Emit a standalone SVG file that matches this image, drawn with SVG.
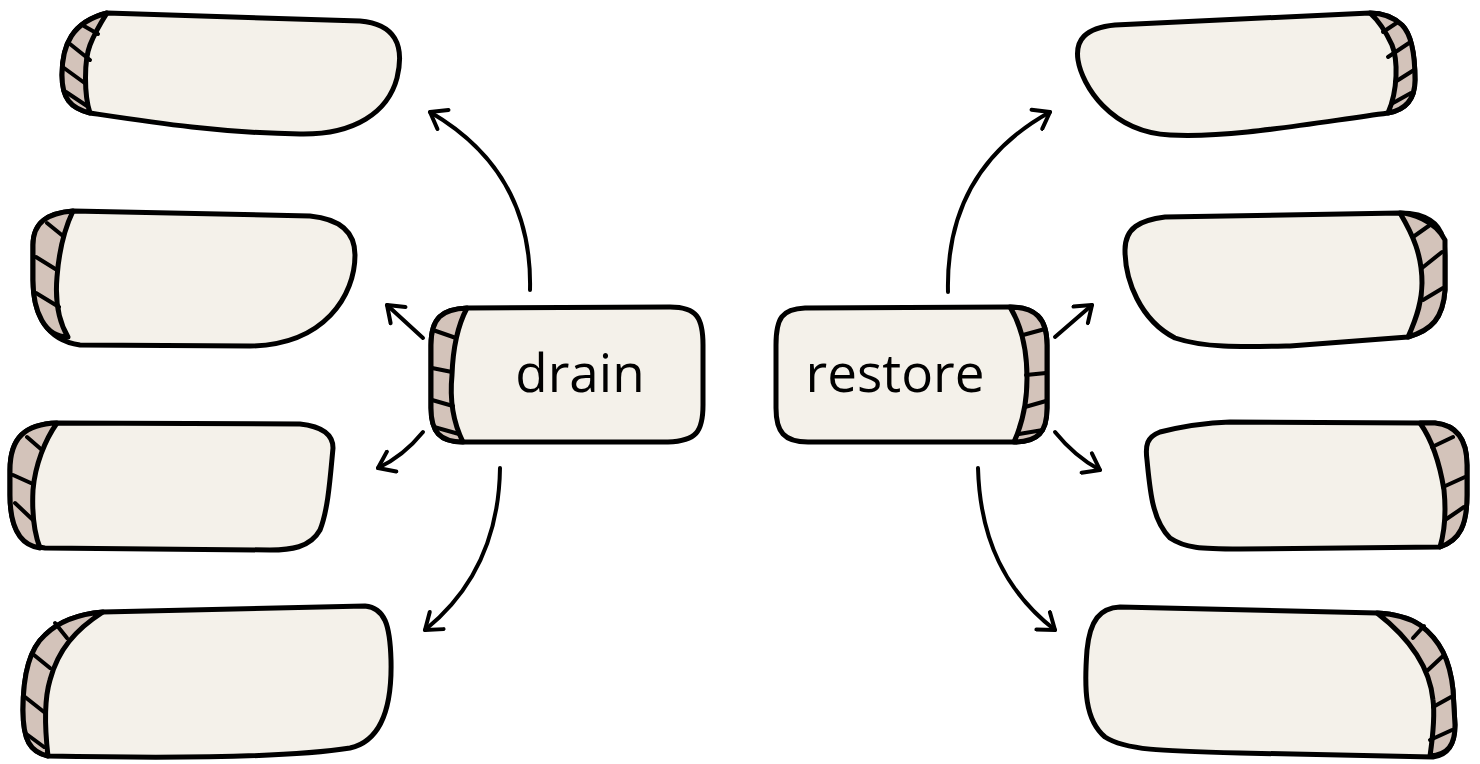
<svg xmlns="http://www.w3.org/2000/svg" width="1480" height="764" viewBox="0 0 1480 764">
  <style>
    .body { fill: #f4f1ea; stroke: #000; stroke-width: 5; stroke-linejoin: round; }
    .cap { fill: #d3c3ba; stroke: #000; stroke-width: 5; stroke-linejoin: round; }
    .rib { fill: none; stroke: #000; stroke-width: 4; stroke-linecap: round; }
    .edge { fill: none; stroke: #000; stroke-width: 4; stroke-linecap: round; }
    .label { font-family: "Open Sans", "Liberation Sans", sans-serif; font-weight: 400; font-size: 53px; fill: #000; text-anchor: middle; }
  </style>
  <defs>
    <marker id="head" viewBox="-18 -13 22 26" markerWidth="22" markerHeight="26" refX="0" refY="0" orient="auto" markerUnits="userSpaceOnUse">
      <path d="M -15 -11 L 0 0 L -15 11" fill="none" stroke="#000" stroke-width="4" stroke-linecap="round" stroke-linejoin="round"/>
    </marker>
  </defs>

  <!-- connectors -->
  <g id="connectors">
    <path class="edge" d="M 530 290 C 532 205 492 148 430 112" marker-end="url(#head)"/>
    <path class="edge" d="M 423 338 L 387 305" marker-end="url(#head)"/>
    <path class="edge" d="M 423 432 C 410 448 395 460 378 468" marker-end="url(#head)"/>
    <path class="edge" d="M 500 468 C 499 540 472 592 425 630" marker-end="url(#head)"/>
    <path class="edge" d="M 948 292 C 946 205 985 148 1050 112" marker-end="url(#head)"/>
    <path class="edge" d="M 1055 337 L 1092 305" marker-end="url(#head)"/>
    <path class="edge" d="M 1055 432 C 1068 448 1083 461 1100 470" marker-end="url(#head)"/>
    <path class="edge" d="M 978 468 C 980 540 1006 592 1055 630" marker-end="url(#head)"/>
  </g>

  <!-- central: drain -->
  <g id="drain">
    <path class="body" d="M 467 308 L 670 307 C 697 307 703 318 703 345 L 703 405 C 703 432 696 441 668 442 L 463 442 C 440 442 431 432 431 408 L 431 345 C 431 318 442 309 467 308 Z"/>
    <path class="cap" d="M 467 308 C 442 309 431 318 431 345 L 431 408 C 431 432 440 442 463 442 C 452 420 450 395 452 375 C 453 345 458 325 467 308 Z"/>
    <path class="rib" d="M 433 330 L 456 338 M 432 368 L 452 372 M 432 400 L 453 406 M 434 427 L 459 434"/>
    <text class="label" x="580" y="392">drain</text>
  </g>

  <!-- central: restore -->
  <g id="restore">
    <path class="body" d="M 805 308 L 1010 307 C 1035 307 1047 318 1047 345 L 1047 408 C 1047 432 1038 442 1014 442 L 808 442 C 784 442 776 432 776 408 L 776 345 C 776 318 782 309 805 308 Z"/>
    <path class="cap" d="M 1010 307 C 1035 307 1047 318 1047 345 L 1047 408 C 1047 432 1038 442 1014 442 C 1024 420 1027 398 1027 378 C 1027 350 1021 325 1010 307 Z"/>
    <path class="rib" d="M 1023 335 L 1045 329 M 1026 375 L 1046 373 M 1025 407 L 1046 401 M 1019 434 L 1043 430"/>
    <text class="label" x="895" y="392">restore</text>
  </g>

  <!-- left leaves -->
  <g id="leaf-l1">
    <path class="body" d="M 107 13 L 360 21 C 395 24 405 45 397 78 C 388 112 355 135 300 134 C 220 133 150 122 90 113 C 70 108 62 98 62 75 C 62 45 72 22 107 13 Z"/>
    <path class="cap" d="M 107 13 C 72 22 62 45 62 75 C 62 98 70 108 90 113 C 84 95 84 60 90 45 C 94 35 100 24 107 13 Z"/>
    <path class="rib" d="M 84 26 L 98 34 M 70 44 L 90 60 M 64 68 L 86 84 M 66 92 L 87 106"/>
  </g>

  <g id="leaf-l2">
    <path class="body" d="M 73 211 L 310 216 C 340 219 355 232 355 255 C 355 295 325 345 250 346 L 80 345 C 45 340 33 312 33 280 L 33 245 C 33 222 48 213 73 211 Z"/>
    <path class="cap" d="M 73 211 C 48 213 33 222 33 245 L 33 280 C 33 312 45 337 68 337 C 58 320 55 300 57 277 C 59 250 64 230 73 211 Z"/>
    <path class="rib" d="M 47 223 L 63 236 M 36 257 L 57 270 M 36 293 L 59 307"/>
  </g>

  <g id="leaf-l3">
    <path class="body" d="M 57 423 L 300 424 C 318 426 333 432 333 448 C 330 480 328 510 320 530 C 310 548 290 550 270 550 L 45 548 C 18 545 10 525 10 495 L 10 470 C 10 438 25 424 57 423 Z"/>
    <path class="cap" d="M 57 423 C 25 424 10 438 10 470 L 10 495 C 10 525 18 545 40 548 C 33 530 32 510 33 490 C 35 465 45 440 57 423 Z"/>
    <path class="rib" d="M 27 437 L 42 450 M 13 475 L 33 484 M 15 503 L 33 520"/>
  </g>

  <g id="leaf-l4">
    <path class="body" d="M 103 612 L 365 606 C 385 608 390 625 391 660 C 392 700 385 740 350 748 C 300 756 200 759 48 756 C 30 752 23 740 23 710 C 23 680 28 650 45 635 C 60 620 80 614 103 612 Z"/>
    <path class="cap" d="M 103 612 C 80 614 60 620 45 635 C 28 650 23 680 23 710 C 23 740 30 752 48 756 C 45 730 44 700 50 680 C 58 650 75 630 103 612 Z"/>
    <path class="rib" d="M 55 623 L 67 638 M 34 655 L 50 668 M 25 697 L 44 712 M 25 733 L 44 747"/>
  </g>

  <!-- right leaves -->
  <g id="leaf-r1">
    <path class="body" d="M 1370 13 L 1115 25 C 1085 28 1075 40 1078 60 C 1082 85 1110 132 1170 135 C 1230 138 1300 125 1388 113 C 1405 110 1415 100 1415 80 C 1415 55 1412 35 1402 25 C 1392 16 1382 13 1370 13 Z"/>
    <path class="cap" d="M 1370 13 C 1382 13 1392 16 1402 25 C 1412 35 1415 55 1415 80 C 1415 100 1405 110 1388 113 C 1398 90 1398 60 1392 45 C 1386 32 1380 22 1370 13 Z"/>
    <path class="rib" d="M 1383 32 L 1398 22 M 1388 57 L 1409 43 M 1395 82 L 1414 70 M 1393 103 L 1411 93"/>
  </g>

  <g id="leaf-r2">
    <path class="body" d="M 1400 213 L 1165 217 C 1140 220 1125 228 1125 250 C 1125 280 1140 320 1175 338 C 1205 348 1240 347 1290 346 L 1408 337 C 1432 330 1443 318 1445 290 L 1445 255 C 1445 230 1435 220 1418 215 C 1410 213 1405 213 1400 213 Z"/>
    <path class="cap" d="M 1400 213 C 1410 213 1435 220 1445 240 L 1445 290 C 1443 318 1432 330 1408 337 C 1418 315 1422 300 1422 283 C 1422 255 1413 235 1400 213 Z"/>
    <path class="rib" d="M 1413 237 L 1430 225 M 1422 268 L 1442 252 M 1423 300 L 1443 288"/>
  </g>

  <g id="leaf-r3">
    <path class="body" d="M 1420 423 L 1230 422 C 1200 423 1180 427 1160 432 C 1147 437 1145 445 1147 460 C 1150 490 1152 520 1170 538 C 1185 548 1200 549 1240 549 L 1440 547 C 1460 540 1467 525 1467 495 L 1467 465 C 1467 438 1455 425 1435 423 Z"/>
    <path class="cap" d="M 1420 423 L 1435 423 C 1455 425 1467 438 1467 465 L 1467 495 C 1467 525 1460 540 1440 547 C 1445 530 1446 510 1444 490 C 1440 465 1432 440 1420 423 Z"/>
    <path class="rib" d="M 1432 447 L 1453 437 M 1443 487 L 1465 477 M 1445 520 L 1464 507"/>
  </g>

  <g id="leaf-r4">
    <path class="body" d="M 1377 613 L 1120 607 C 1100 608 1090 620 1087 650 C 1084 690 1085 720 1105 737 C 1125 750 1160 751 1240 753 L 1433 757 C 1448 755 1455 745 1455 725 L 1453 690 C 1450 660 1440 640 1420 625 C 1408 617 1395 614 1377 613 Z"/>
    <path class="cap" d="M 1377 613 C 1395 614 1408 617 1420 625 C 1440 640 1450 660 1453 690 L 1455 725 C 1455 745 1448 755 1430 756 C 1433 735 1435 715 1433 700 C 1430 670 1412 640 1377 613 Z"/>
    <path class="rib" d="M 1413 638 L 1424 626 M 1428 670 L 1443 656 M 1433 707 L 1451 697 M 1430 740 L 1452 730"/>
  </g>
</svg>
